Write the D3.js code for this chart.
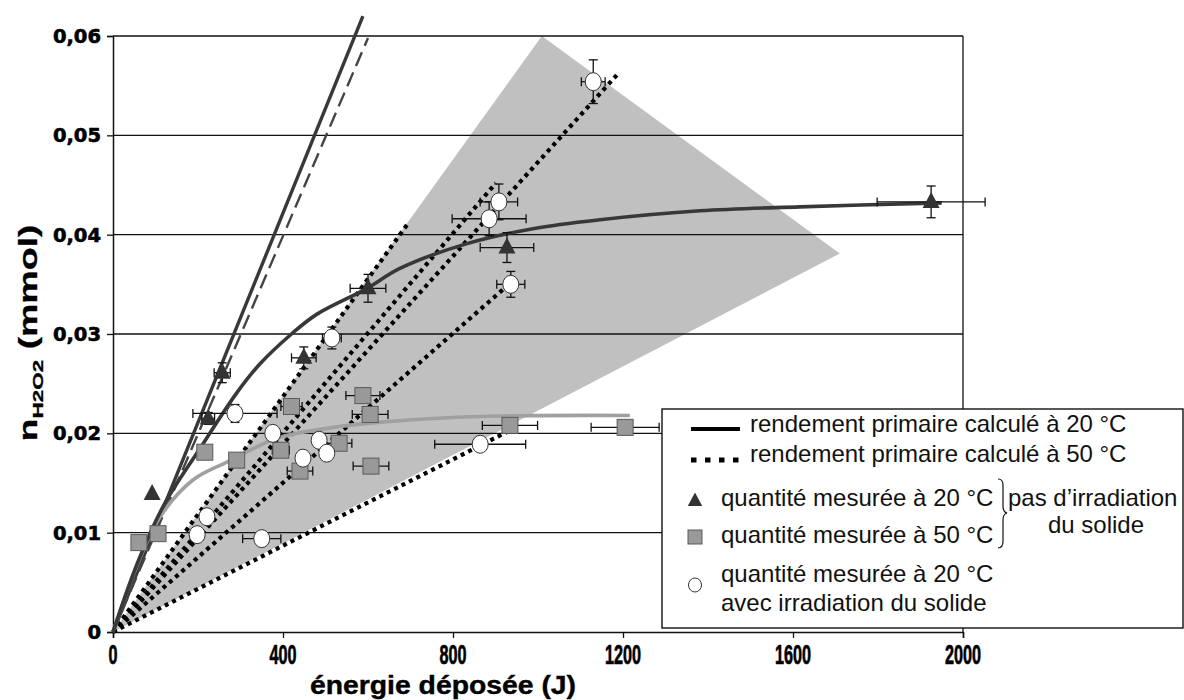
<!DOCTYPE html>
<html>
<head>
<meta charset="utf-8">
<script src="https://cdn.jsdelivr.net/npm/d3@7"></script>
<style>
  html, body { margin: 0; padding: 0; background: #fff; }
  svg { display: block; }
</style>
</head>
<body>
<svg id="chart" width="1184" height="700"></svg>
<script>
// ---------------- DATA ----------------
const xTicks = [0, 400, 800, 1200, 1600, 2000];
const xTickLabels = ["0", "400", "800", "1200", "1600", "2000"];
const yTicks = [0, 0.01, 0.02, 0.03, 0.04, 0.05, 0.06];
const yTickLabels = ["0", "0,01", "0,02", "0,03", "0,04", "0,05", "0,06"];

// shaded envelope (energy J, n mmol)
const envelope = [[0, 0], [1009, 0.06], [1710, 0.0381]];

// primary yield at 20 °C (solid) and its dashed variant
const primary20 = [[0, 0], [588, 0.062]];
const primary20Dashed = [[0, 0], [600, 0.0598]];

// primary yield at 50 °C (dotted lines from origin) - end points
const primary50Ends = [[697, 0.0413], [901, 0.0452], [1186, 0.0561], [934, 0.0351], [934, 0.0203]];

// fitted curves
const curve20 = [[0, 0], [60, 0.0072], [120, 0.0128], [205, 0.0185], [290, 0.0240], [346, 0.0270],
  [420, 0.0300], [480, 0.0320], [598, 0.0346], [675, 0.0366], [833, 0.0391], [988, 0.0406],
  [1146, 0.0415], [1381, 0.0424], [1616, 0.0428], [1950, 0.0432]];
const curve50 = [[0, 0], [50, 0.0060], [111, 0.0116], [188, 0.0153], [268, 0.0171], [386, 0.0195],
  [504, 0.0205], [652, 0.0212], [864, 0.0217], [1216, 0.0218]];

// measured points: [energy, n, xErr, yErr]
const measured20 = [
  [92, 0.0139, 0, 0], [224, 0.0215, 15, 0.0006], [257, 0.0261, 19, 0.0010], [449, 0.0276, 29, 0.0011],
  [600, 0.0346, 42, 0.0014], [927, 0.0387, 63, 0.0015], [1925, 0.0433, 127, 0.0016]
];
const measured50 = [
  [61, 0.0090, 0, 0], [106, 0.0099, 0, 0], [216, 0.0181, 0, 0], [291, 0.0173, 0, 0], [395, 0.0183, 20, 0],
  [420, 0.0227, 25, 0.0004], [440, 0.0162, 30, 0], [532, 0.0190, 30, 0], [588, 0.0238, 40, 0.0004],
  [605, 0.0219, 42, 0.0004], [607, 0.0167, 42, 0], [934, 0.0208, 65, 0.0004], [1205, 0.0206, 80, 0.0004]
];
const measuredIrr = [
  [198, 0.0098, 10, 0], [221, 0.0116, 0, 0], [287, 0.0220, 99, 0.0009], [350, 0.0094, 45, 0],
  [376, 0.0200, 15, 0], [447, 0.0175, 0, 0], [485, 0.0193, 0, 0], [503, 0.0180, 0, 0],
  [515, 0.0296, 22, 0.0011], [864, 0.0189, 107, 0.0004], [885, 0.0416, 87, 0.0017],
  [908, 0.0433, 44, 0.0018], [936, 0.0350, 33, 0.0013], [1130, 0.0554, 28, 0.0022]
];

const legendLabels = [
  "rendement primaire calculé à 20 °C",
  "rendement primaire calculé à 50 °C",
  "quantité mesurée à 20 °C",
  "quantité mesurée à 50 °C",
  "quantité mesurée à 20 °C",
  "avec irradiation du solide"
];
const braceLabels = ["pas d’irradiation", "du solide"];

// ---------------- DRAW ----------------
const svg = d3.select("#chart");
const x = d3.scaleLinear().domain([0, 2000]).range([113, 963]);
const y = d3.scaleLinear().domain([0, 0.06]).range([632, 36]);

// envelope
svg.append("path")
  .attr("d", d3.line().x(d => x(d[0])).y(d => y(d[1]))(envelope) + "Z")
  .attr("fill", "#c0c0c0");

// grid lines
svg.append("g").selectAll("line").data(yTicks.slice(1)).join("line")
  .attr("x1", x(0)).attr("x2", x(2000))
  .attr("y1", d => y(d)).attr("y2", d => y(d))
  .attr("stroke", "#111").attr("stroke-width", 1.3);

// right border
svg.append("line").attr("x1", x(2000)).attr("x2", x(2000)).attr("y1", y(0.06)).attr("y2", y(0))
  .attr("stroke", "#111").attr("stroke-width", 1.3);

// axes
const xAxis = d3.axisBottom(x).tickValues(xTicks).tickSize(6).tickFormat("");
const yAxis = d3.axisLeft(y).tickValues(yTicks).tickSize(6).tickFormat("");
const gx = svg.append("g").attr("transform", `translate(0,${y(0)})`).call(xAxis);
const gy = svg.append("g").attr("transform", `translate(${x(0)},0)`).call(yAxis);
[gx, gy].forEach(g => {
  g.select(".domain").attr("stroke", "#111").attr("stroke-width", 1.5);
  g.selectAll(".tick line").attr("stroke", "#111").attr("stroke-width", 1.3);
});

// tick labels (condensed bold)
svg.append("g").selectAll("text").data(xTicks).join("text")
  .attr("transform", d => `translate(${x(d)},664) scale(0.6,1)`)
  .attr("text-anchor", "middle")
  .attr("font-family", "'Liberation Sans', Arial, sans-serif")
  .attr("font-weight", "bold").attr("font-size", 27)
  .attr("stroke", "#000").attr("stroke-width", 0.7)
  .text((d, i) => xTickLabels[i]);

svg.append("g").selectAll("text").data(yTicks).join("text")
  .attr("x", 101).attr("y", d => y(d) + 7)
  .attr("text-anchor", "end")
  .attr("font-family", "'DejaVu Sans', sans-serif")
  .attr("font-weight", "bold").attr("font-size", 19.5)
  .attr("stroke", "#000").attr("stroke-width", 0.6)
  .text((d, i) => yTickLabels[i]);

// axis titles
svg.append("text")
  .attr("x", 443).attr("y", 694)
  .attr("text-anchor", "middle")
  .attr("font-family", "'Liberation Sans', Arial, sans-serif")
  .attr("font-weight", "bold").attr("font-size", 25.5)
  .attr("stroke", "#000").attr("stroke-width", 0.4)
  .attr("textLength", 266).attr("lengthAdjust", "spacingAndGlyphs")
  .text("énergie déposée (J)");

const yt = svg.append("text")
  .attr("transform", "translate(37,333) rotate(-90) scale(1.5,1)")
  .attr("text-anchor", "middle")
  .attr("font-family", "'Liberation Sans', Arial, sans-serif")
  .attr("font-weight", "bold").attr("font-size", 25)
  .attr("stroke", "#000").attr("stroke-width", 0.3);
yt.append("tspan").text("n");
yt.append("tspan").attr("font-size", 15).attr("dy", 6).text("H2O2");
yt.append("tspan").attr("dy", -6).text(" (mmol)");

// lines
const line = d3.line().x(d => x(d[0])).y(d => y(d[1]));

primary50Ends.forEach(e => {
  svg.append("path").attr("d", line([[0, 0], e]))
    .attr("fill", "none").attr("stroke", "#000").attr("stroke-width", 4.2)
    .attr("stroke-dasharray", "4 4.3");
});

svg.append("path").attr("d", line(primary20))
  .attr("fill", "none").attr("stroke", "#383838").attr("stroke-width", 3.4);
svg.append("path").attr("d", line(primary20Dashed))
  .attr("fill", "none").attr("stroke", "#444").attr("stroke-width", 2.4)
  .attr("stroke-dasharray", "15 7");

const smooth = d3.line().x(d => x(d[0])).y(d => y(d[1])).curve(d3.curveCatmullRom.alpha(0.5));
svg.append("path").attr("d", smooth(curve50))
  .attr("fill", "none").attr("stroke", "#a0a0a0").attr("stroke-width", 3.6);
svg.append("path").attr("d", smooth(curve20))
  .attr("fill", "none").attr("stroke", "#383838").attr("stroke-width", 3.6);

// error bars
function errorBars(data) {
  const g = svg.append("g").attr("stroke", "#111").attr("stroke-width", 1.3).attr("fill", "none");
  data.forEach(d => {
    const cx = x(d[0]), cy = y(d[1]);
    if (d[2] > 0) {
      const x0 = x(d[0] - d[2]), x1 = x(d[0] + d[2]);
      g.append("line").attr("x1", x0).attr("x2", x1).attr("y1", cy).attr("y2", cy);
      g.append("line").attr("x1", x0).attr("x2", x0).attr("y1", cy - 4.5).attr("y2", cy + 4.5);
      g.append("line").attr("x1", x1).attr("x2", x1).attr("y1", cy - 4.5).attr("y2", cy + 4.5);
    }
    if (d[3] > 0) {
      const y0 = y(d[1] - d[3]), y1 = y(d[1] + d[3]);
      g.append("line").attr("x1", cx).attr("x2", cx).attr("y1", y0).attr("y2", y1);
      g.append("line").attr("x1", cx - 4.5).attr("x2", cx + 4.5).attr("y1", y0).attr("y2", y0);
      g.append("line").attr("x1", cx - 4.5).attr("x2", cx + 4.5).attr("y1", y1).attr("y2", y1);
    }
  });
}
errorBars(measured50);
errorBars(measuredIrr);
errorBars(measured20);

// markers
const triPath = "M0,-10L8.5,6L-8.5,6Z";
svg.append("g").selectAll("rect").data(measured50).join("rect")
  .attr("x", d => x(d[0]) - 8).attr("y", d => y(d[1]) - 8)
  .attr("width", 16).attr("height", 16)
  .attr("fill", "#999").attr("stroke", "#5a5a5a").attr("stroke-width", 1);
svg.append("g").selectAll("ellipse").data(measuredIrr).join("ellipse")
  .attr("cx", d => x(d[0])).attr("cy", d => y(d[1]))
  .attr("rx", 8).attr("ry", 9)
  .attr("fill", "#fff").attr("stroke", "#333").attr("stroke-width", 1);
svg.append("g").selectAll("path").data(measured20).join("path")
  .attr("transform", d => `translate(${x(d[0])},${y(d[1])})`)
  .attr("d", triPath).attr("fill", "#333");

// legend
const lg = svg.append("g");
lg.append("rect").attr("x", 662).attr("y", 409).attr("width", 521).attr("height", 219)
  .attr("fill", "#fff").attr("stroke", "#111").attr("stroke-width", 1.4);
lg.append("line").attr("x1", 691).attr("x2", 740).attr("y1", 429).attr("y2", 429)
  .attr("stroke", "#000").attr("stroke-width", 4);
lg.append("line").attr("x1", 691).attr("x2", 741).attr("y1", 460).attr("y2", 460)
  .attr("stroke", "#000").attr("stroke-width", 5).attr("stroke-dasharray", "5.5 8.5");
lg.append("path").attr("transform", "translate(695,501) scale(0.85)").attr("d", triPath).attr("fill", "#333");
lg.append("rect").attr("x", 688).attr("y", 530).attr("width", 14).attr("height", 14)
  .attr("fill", "#999").attr("stroke", "#5a5a5a");
lg.append("ellipse").attr("cx", 695).attr("cy", 585).attr("rx", 6.5).attr("ry", 7)
  .attr("fill", "#fff").attr("stroke", "#333");

const legendPos = [[750, 432], [750, 462], [721, 506], [721, 543], [721, 582], [721, 611]];
lg.selectAll("text.lt").data(legendLabels).join("text")
  .attr("class", "lt")
  .attr("x", (d, i) => legendPos[i][0]).attr("y", (d, i) => legendPos[i][1])
  .attr("font-family", "'Liberation Sans', Arial, sans-serif").attr("font-size", 24)
  .attr("fill", "#111")
  .text(d => d);

// brace
lg.append("path")
  .attr("d", "M998,479 Q1003,479 1003,485 L1003,506 Q1003,512 1007,513 Q1003,514 1003,520 L1003,541 Q1003,548 998,548")
  .attr("fill", "none").attr("stroke", "#111").attr("stroke-width", 1.2);
lg.append("text").attr("x", 1008).attr("y", 506)
  .attr("font-family", "'Liberation Sans', Arial, sans-serif").attr("font-size", 24).attr("fill", "#111")
  .text(braceLabels[0]);
lg.append("text").attr("x", 1096).attr("y", 533).attr("text-anchor", "middle")
  .attr("font-family", "'Liberation Sans', Arial, sans-serif").attr("font-size", 24).attr("fill", "#111")
  .text(braceLabels[1]);
</script>
</body>
</html>
